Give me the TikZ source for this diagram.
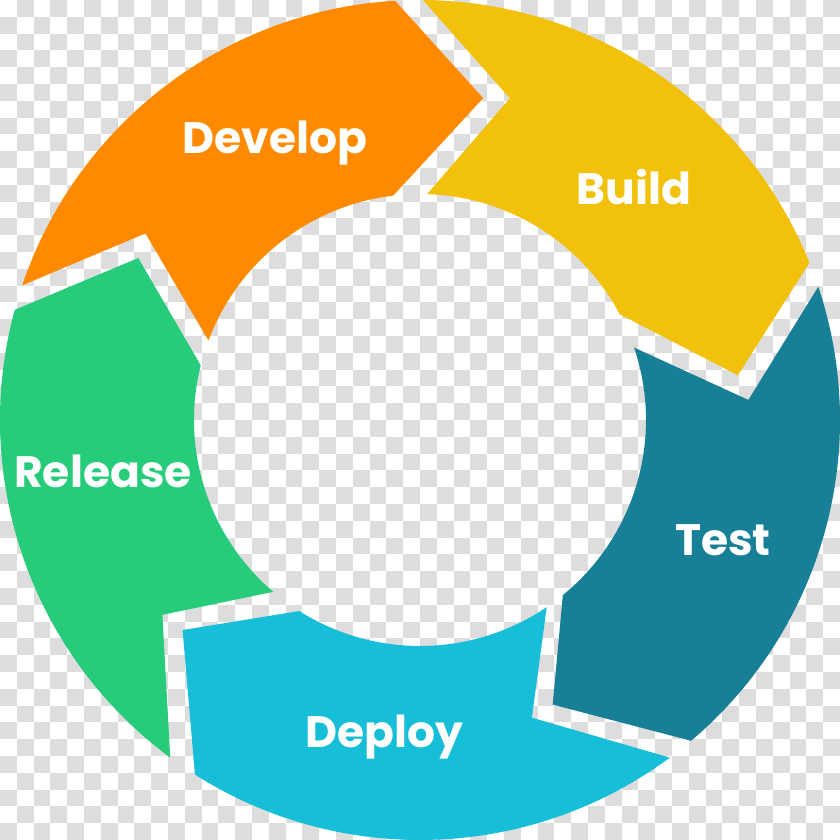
\documentclass[tikz,border=0pt]{standalone}
\usepackage{fontspec}
\newfontfamily\stagefont{Poppins}
\definecolor{devorange}{RGB}{255,138,0}
\definecolor{buildyellow}{RGB}{242,193,12}
\definecolor{testteal}{RGB}{24,128,150}
\definecolor{deploycyan}{RGB}{22,190,216}
\definecolor{releasegreen}{RGB}{38,204,122}
\definecolor{checker}{RGB}{221,221,221}

\begin{document}
\begin{tikzpicture}[x=1pt,y=1pt,
    stage/.style={draw=none},
    stagetext/.style={text=white, anchor=base, inner sep=0pt,
        font=\stagefont\bfseries\fontsize{44}{48}\selectfont}]
    % Background (transparent checkerboard)
    \fill[white] (-420,-420) rectangle (420,420);
    \foreach \r in {0,...,49} {
        \pgfmathsetmacro\off{mod(\r+1,2)}
        \foreach \c in {0,2,...,48} {
            \fill[checker] ({(\c+\off)*16.8-420},{420-\r*16.8})
                rectangle ++(16.8,-16.8);
        }
    }
    \useasboundingbox (-420,-420) rectangle (420,420);

    % Develop
    \fill[stage, devorange] (161.3:420) -- (145.8:332) -- (159.4:226)
        arc[start angle=159.4, end angle=96.8, radius=226]
        -- (78.9:328) -- (93.4:420)
        arc[start angle=93.4, end angle=161.3, radius=420] -- cycle;

    % Build
    \fill[stage, buildyellow] (89.6:420) -- (74.4:334) -- (88.2:226)
        arc[start angle=88.2, end angle=27.9, radius=226]
        -- (8.0:321) -- (22.0:420)
        arc[start angle=22.0, end angle=89.6, radius=420] -- cycle;

    % Test
    \fill[stage, testteal] (18.5:420) -- (3.5:329) -- (18.7:226)
        arc[start angle=18.7, end angle=-50.8, radius=226]
        -- (-65.0:314) -- (-49.8:420)
        arc[start angle=-49.8, end angle=18.5, radius=420] -- cycle;

    % Deploy
    \fill[stage, deploycyan] (-53.5:420) -- (-69.4:318) -- (-55.9:226)
        arc[start angle=-55.9, end angle=-122.3, radius=226]
        -- (-138.5:317) -- (-122.4:420)
        arc[start angle=-122.4, end angle=-53.5, radius=420] -- cycle;

    % Release
    \fill[stage, releasegreen] (-126.5:420) -- (-142.9:323) -- (-130.5:226)
        arc[start angle=-130.5, end angle=-194, radius=226]
        -- (-209.9:325) -- (-195.2:420)
        arc[start angle=-195.2, end angle=-126.5, radius=420] -- cycle;

    % Labels
    \node[stagetext] (develop) at (-145,266) {Develop};
    \node[stagetext] (build) at (214,215) {Build};
    \node[stagetext] (test) at (303,-135) {Test};
    \node[stagetext] (deploy) at (-36,-327) {Deploy};
    \node[stagetext] (release) at (-317,-67) {Release};
\end{tikzpicture}
\end{document}
